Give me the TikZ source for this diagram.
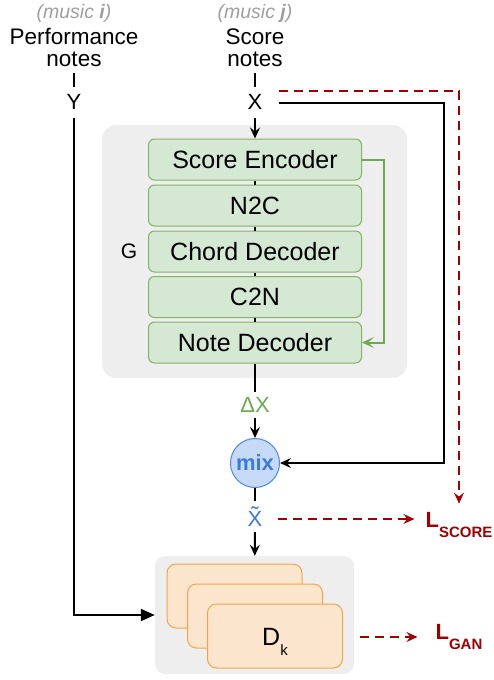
\documentclass[tikz,border=0pt]{standalone}
\usepackage{fontspec}
\usepackage{graphicx}
\setmainfont{Liberation Sans}
\usetikzlibrary{arrows.meta,calc}
\definecolor{gfill}{HTML}{D5E8D4}
\definecolor{gdraw}{HTML}{82B366}
\definecolor{garrow}{HTML}{6AAB52}
\definecolor{bgray}{HTML}{EEEEEE}
\definecolor{ofill}{HTML}{FCE5CD}
\definecolor{odraw}{HTML}{F2A44C}
\definecolor{bfill}{HTML}{C6DAF7}
\definecolor{bdraw}{HTML}{4A86E8}
\definecolor{btext}{HTML}{3C7BDB}
\definecolor{lred}{HTML}{A00000}
\definecolor{mgray}{HTML}{9E9E9E}
\newcommand{\myfs}[1]{\fontsize{#1}{#1}\selectfont}
\begin{document}
\begin{tikzpicture}[x=1pt,y=-1pt,
  lbl/.style={inner sep=0pt, font=\myfs{22}},
  stage/.style={draw=gdraw, fill=gfill, line width=1pt, rounded corners=6pt, minimum width=213pt, minimum height=41pt, inner sep=0pt, font=\myfs{25}},
  card/.style={draw=odraw, fill=ofill, line width=1pt, rounded corners=9pt, minimum width=135pt, minimum height=64pt, inner sep=0pt},
  bline/.style={line width=2pt, black},
  barrow/.style={bline, -{Stealth[length=11pt,width=10pt,inset=4pt]}},
  rdash/.style={line width=2pt, lred, dash pattern=on 9pt off 6pt, -{Stealth[length=11pt,width=10pt,inset=4pt]}},
  losstxt/.style={inner sep=0pt, text=lred},
]
\useasboundingbox (0,0) rectangle (494,680);
% background boxes
\node[fill=bgray, rounded corners=14pt, minimum width=305pt, minimum height=253pt, inner sep=0pt] (gbox) at (254.5,251.5) {};
\node[fill=bgray, rounded corners=10pt, minimum width=199pt, minimum height=118pt, inner sep=0pt] (dbox) at (254.5,615) {};
% top labels
\node[inner sep=0pt, font=\myfs{19.5}\itshape, text=mgray] (mi) at (74,13) {(music \textbf{i})};
\node[inner sep=0pt, font=\myfs{19.5}\itshape, text=mgray] (mj) at (255,13) {(music \textbf{j})};
\node[inner sep=0pt, align=center, font=\fontsize{22.5}{22}\selectfont] (perf) at (74,47.5) {Performance\\notes};
\node[inner sep=0pt, align=center, font=\fontsize{22.5}{22}\selectfont] (score) at (255,47.5) {Score\\notes};
\node[lbl] (Y) at (74,102) {Y};
\node[lbl] (X) at (255,102) {X};
% generator stages
\node[stage] (enc) at (255,159.5) {Score Encoder};
\node[stage] (n2c) at (255,205.5) {N2C};
\node[stage] (chd) at (255,251.5) {Chord Decoder};
\node[stage] (c2n) at (255,297) {C2N};
\node[stage] (note) at (255,342.5) {Note Decoder};
\node[lbl, font=\myfs{21}] (G) at (129,251.5) {G};
% delta, mix, tilde
\node[lbl, text=garrow] (dx) at (255,405) {ΔX};
\node[circle, draw=bdraw, fill=bfill, line width=1pt, minimum size=49pt, inner sep=0pt, font=\myfs{22}\bfseries, text=btext] (mix) at (255,463) {mix};
\node[lbl, text=btext, anchor=base] (xt) at (255,526) {\~{X}};
% losses
\node[losstxt] (lscore) at (459,524.5) {\myfs{22}\bfseries L\raisebox{-10pt}{\myfs{15}\bfseries SCORE}};
\node[losstxt] (lgan) at (459,636.5) {\myfs{22}\bfseries L\raisebox{-10pt}{\myfs{15}\bfseries GAN}};
% discriminators
\node[card] (card1) at (234.5,596) {};
\node[card] (card2) at (255,616) {};
\node[card] (card3) at (275,636) {};
\node[inner sep=0pt, anchor=base, font=\myfs{25}] (dk) at (275,645) {D\raisebox{-10pt}{\myfs{15}k}};
% connectors
\draw[bline, shorten <=6.5pt, shorten >=7pt] (perf) -- (Y);
\draw[bline, shorten <=6.5pt, shorten >=7pt] (score) -- (X);
\draw[bline, -{Triangle[length=14pt,width=12pt]}, shorten <=8pt] (Y) |- (dbox.west);
\draw[barrow, shorten <=8pt] (X) -- (enc);
\draw[bline] (enc) -- (n2c);
\draw[bline] (n2c) -- (chd);
\draw[bline] (chd) -- (c2n);
\draw[bline] (c2n) -- (note);
\draw[garrow, line width=2pt, -{Stealth[length=12pt,width=11pt,inset=6pt]}] (enc.east) -- ++(22,0) |- (note.east);
\draw[bline, shorten >=5pt] (note) -- (dx);
\draw[barrow, shorten <=5pt] (dx) -- (mix);
\coordinate (cx1) at (444,463);
\draw[barrow] ($(X.east)+(16,1)$) -| (cx1) -- (mix);
\draw[bline, shorten >=5pt] (mix) -- (xt);
\draw[barrow, shorten <=6pt] (xt) -- (dbox);
\draw[rdash, shorten >=8pt] ($(X.east)+(16,-11)$) -| (lscore.north);
\draw[rdash, shorten >=11pt] ($(xt.base east)+(15,-7)$) -- ($(xt.base east -| lscore.west)+(0,-7)$);
\draw[rdash, shorten >=18pt] ($(card3.east)+(17,1)$) -- ($(card3.east -| lgan.west)+(0,1)$);
\end{tikzpicture}
\end{document}
